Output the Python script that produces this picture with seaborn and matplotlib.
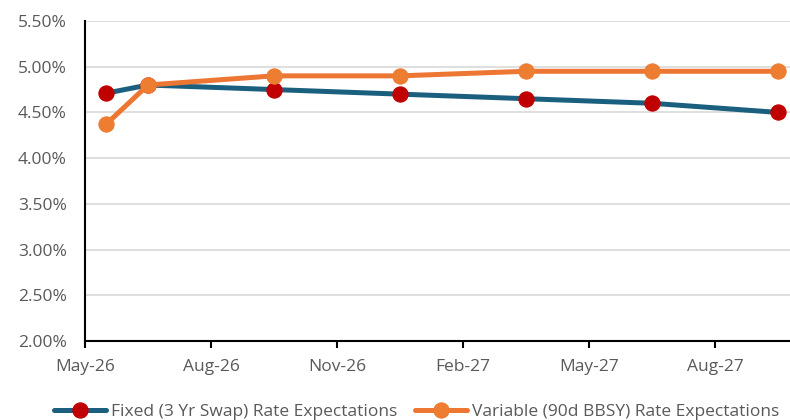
import pandas as pd
import matplotlib
matplotlib.use("Agg")
import matplotlib.pyplot as plt
import seaborn as sns
from matplotlib.ticker import FuncFormatter

# data
meses = ["2026-05", "2026-06", "2026-09", "2026-12", "2027-03", "2027-06", "2027-09"]
fijo = [4.71, 4.80, 4.75, 4.70, 4.65, 4.60, 4.50]
variable = [4.37, 4.80, 4.90, 4.90, 4.95, 4.95, 4.95]
etiquetas_x = ["May-26", "Aug-26", "Nov-26", "Feb-27", "May-27", "Aug-27"]
nombres = ["Fixed (3 Yr Swap) Rate Expectations", "Variable (90d BBSY) Rate Expectations"]

# month index from May-26, points sit between tick marks (like Excel)
fechas = pd.to_datetime(meses)
idx = (fechas.year - 2026) * 12 + (fechas.month - 5) + 0.5
df = pd.DataFrame({"x": idx, "fijo": fijo, "variable": variable})

sns.set_style("white")
plt.rcParams["font.family"] = ["Open Sans", "DejaVu Sans"]
gris = "#595959"

fig = plt.figure(figsize=(7.9, 4.2), dpi=100)
ax = fig.add_axes([85 / 790, 1 - 341 / 420, 1 - 85 / 790, 320 / 420])

sns.lineplot(data=df, x="x", y="fijo", ax=ax, color="#1B5F7F", linewidth=3.6,
             marker="o", markersize=11, markerfacecolor="#C00000",
             markeredgecolor="#C00000", label=nombres[0], zorder=3)
sns.lineplot(data=df, x="x", y="variable", ax=ax, color="#ED7632", linewidth=3.6,
             marker="o", markersize=11, markerfacecolor="#ED7D31",
             markeredgecolor="#ED7D31", label=nombres[1], zorder=4)

ax.set_xlim(0, 705 / 42)
ax.set_ylim(2.0, 5.5)
ax.set_yticks([2.0 + 0.5 * i for i in range(8)])
ax.yaxis.set_major_formatter(FuncFormatter(lambda v, p: f"{v:.2f}%"))
ax.set_xticks([0, 3, 6, 9, 12, 15])
ax.set_xticklabels(etiquetas_x)
ax.set_xlabel("")
ax.set_ylabel("")

ax.grid(axis="y", color="#D9D9D9", linewidth=1.2)
ax.set_axisbelow(True)
for lado in ["top", "right"]:
    ax.spines[lado].set_visible(False)
ax.spines["left"].set_color("black")
ax.spines["left"].set_linewidth(1.5)
ax.spines["bottom"].set_color("black")
ax.spines["bottom"].set_linewidth(1.5)

ax.tick_params(axis="x", direction="out", length=5, width=1.5, color="black",
               labelsize=12.5, labelcolor=gris, pad=8, bottom=True)
ax.tick_params(axis="y", length=0, labelsize=12.5, labelcolor=gris, pad=13)

ax.legend(loc="lower center", bbox_to_anchor=(0.47, -0.27), ncol=2, frameon=False,
          fontsize=12.5, labelcolor=gris, handlelength=3.0, handletextpad=0.3,
          columnspacing=1.0, borderaxespad=0)

plt.savefig("out.png", dpi=100)
